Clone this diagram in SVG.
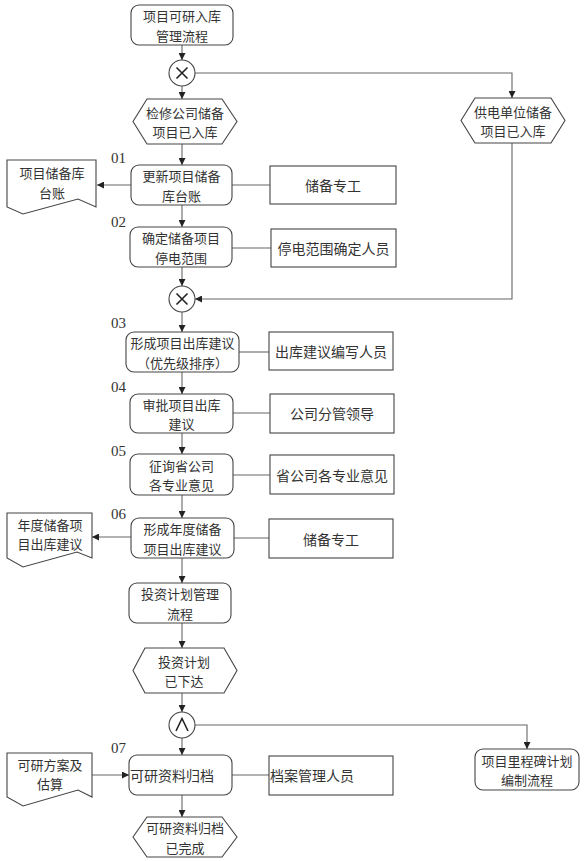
<svg xmlns="http://www.w3.org/2000/svg" width="584" height="861" viewBox="0 0 584 861">
<style>
.n{fill:#fff;stroke:#444;stroke-width:1.1}
.t{font-family:"Noto Sans CJK SC","Noto Sans",sans-serif;font-size:13px;fill:#333;text-anchor:middle;dominant-baseline:central}
.s{font-size:14px}
.tl{text-anchor:start}
.num{font-family:"Liberation Serif",serif;font-size:15px;fill:#333;dominant-baseline:central}
.c{fill:none;stroke:#666;stroke-width:1.1}
.a{marker-end:url(#arr)}
.g{fill:none;stroke:#222;stroke-width:1.6}
</style>
<defs>
<marker id="arr" viewBox="0 0 10 10" refX="10" refY="5" markerWidth="7" markerHeight="7" markerUnits="userSpaceOnUse" orient="auto">
<path d="M0,0 L10,5 L0,10 z" fill="#222"/>
</marker>
</defs>
<rect width="584" height="861" fill="#fff"/>
<g id="connectors">
<line class="c a" x1="182" y1="45" x2="182" y2="60"/>
<line class="c a" x1="182" y1="86" x2="182" y2="99"/>
<polyline class="c a" points="195,73 512,73 512,98"/>
<line class="c a" x1="182" y1="144" x2="182" y2="165"/>
<line class="c a" x1="131" y1="185" x2="97" y2="185"/>
<line class="c" x1="232" y1="185" x2="270" y2="185"/>
<line class="c a" x1="182" y1="205" x2="182" y2="227"/>
<line class="c" x1="232" y1="248" x2="271" y2="248"/>
<line class="c a" x1="182" y1="267" x2="182" y2="286"/>
<polyline class="c a" points="512,143 512,299 195,299"/>
<line class="c a" x1="182" y1="312" x2="182" y2="332"/>
<line class="c" x1="239" y1="352" x2="269" y2="352"/>
<line class="c a" x1="182" y1="372" x2="182" y2="394"/>
<line class="c" x1="233" y1="413" x2="270" y2="413"/>
<line class="c a" x1="182" y1="433" x2="182" y2="454"/>
<line class="c" x1="233" y1="475" x2="270" y2="475"/>
<line class="c a" x1="182" y1="495" x2="182" y2="518"/>
<line class="c a" x1="131" y1="537" x2="92" y2="537"/>
<line class="c" x1="234" y1="538" x2="269" y2="538"/>
<line class="c a" x1="182" y1="558" x2="182" y2="583"/>
<line class="c a" x1="182" y1="623" x2="182" y2="648"/>
<line class="c a" x1="182" y1="693" x2="182" y2="712"/>
<polyline class="c a" points="195,725 527,725 527,749"/>
<line class="c a" x1="182" y1="738" x2="182" y2="755"/>
<line class="c a" x1="92" y1="775" x2="129" y2="775"/>
<line class="c" x1="232" y1="775" x2="269" y2="775"/>
<line class="c a" x1="182" y1="795" x2="182" y2="817"/>
</g>
<g id="start">
<rect class="n" x="131" y="5" width="102" height="40" rx="8"/>
<text class="t" x="182" y="15.5">项目可研入库<tspan x="182" dy="19">管理流程</tspan></text>
</g>
<g id="xor1">
<circle class="n" cx="182" cy="73" r="13"/>
<path class="g" d="M176.5,67.5 L187.5,78.5 M187.5,67.5 L176.5,78.5"/>
</g>
<g id="ev1">
<polygon class="n" points="133,121.5 147,99 222,99 237,121.5 222,144 147,144"/>
<text class="t" x="185" y="112">检修公司储备<tspan x="185" dy="19">项目已入库</tspan></text>
</g>
<g id="ev2">
<polygon class="n" points="461,120.5 475,98 551,98 565,120.5 551,143 475,143"/>
<text class="t" x="513" y="111">供电单位储备<tspan x="513" dy="19">项目已入库</tspan></text>
</g>
<g id="s01">
<text class="num" x="111" y="158">01</text>
<rect class="n" x="131" y="165" width="101" height="40" rx="8"/>
<text class="t" x="181.5" y="175.5">更新项目储备<tspan x="181.5" dy="19">库台账</tspan></text>
</g>
<g id="doc1">
<path class="n" d="M7,160 L96,160 L96,207 L78,199 L23,214 L7,207 Z"/>
<text class="t" x="52" y="172.5">项目储备库<tspan x="52" dy="19">台账</tspan></text>
</g>
<g id="r01">
<rect class="n" x="270" y="166" width="126" height="38"/>
<text class="t s" x="333" y="185">储备专工</text>
</g>
<g id="s02">
<text class="num" x="111" y="222">02</text>
<rect class="n" x="130" y="227" width="102" height="40" rx="8"/>
<text class="t" x="181" y="237.5">确定储备项目<tspan x="181" dy="19">停电范围</tspan></text>
</g>
<g id="r02">
<rect class="n" x="271" y="229" width="125" height="38"/>
<text class="t s" x="333.5" y="248">停电范围确定人员</text>
</g>
<g id="xor2">
<circle class="n" cx="182" cy="299" r="13"/>
<path class="g" d="M176.5,293.5 L187.5,304.5 M187.5,293.5 L176.5,304.5"/>
</g>
<g id="s03">
<text class="num" x="111" y="323">03</text>
<rect class="n" x="126" y="332" width="113" height="40" rx="8"/>
<text class="t" x="182.5" y="342.5">形成项目出库建议<tspan x="182.5" dy="19">（优先级排序）</tspan></text>
</g>
<g id="r03">
<rect class="n" x="269" y="332" width="124" height="38"/>
<text class="t s" x="331" y="351">出库建议编写人员</text>
</g>
<g id="s04">
<text class="num" x="111" y="387">04</text>
<rect class="n" x="130" y="394" width="103" height="39" rx="8"/>
<text class="t" x="181.5" y="404">审批项目出库<tspan x="181.5" dy="19">建议</tspan></text>
</g>
<g id="r04">
<rect class="n" x="270" y="394" width="124" height="39"/>
<text class="t s" x="332" y="413">公司分管领导</text>
</g>
<g id="s05">
<text class="num" x="111" y="451">05</text>
<rect class="n" x="130" y="454" width="103" height="41" rx="8"/>
<text class="t" x="181.5" y="465">征询省公司<tspan x="181.5" dy="19">各专业意见</tspan></text>
</g>
<g id="r05">
<rect class="n" x="270" y="455" width="124" height="39"/>
<text class="t s" x="332" y="474.5">省公司各专业意见</text>
</g>
<g id="s06">
<text class="num" x="111" y="514">06</text>
<rect class="n" x="131" y="518" width="103" height="40" rx="8"/>
<text class="t" x="182.5" y="528.5">形成年度储备<tspan x="182.5" dy="19">项目出库建议</tspan></text>
</g>
<g id="doc2">
<path class="n" d="M7,513 L92,513 L92,558 L77,552 L23,567 L7,558 Z"/>
<text class="t" x="50" y="524">年度储备项<tspan x="50" dy="19">目出库建议</tspan></text>
</g>
<g id="r06">
<rect class="n" x="269" y="519" width="124" height="39"/>
<text class="t s" x="331" y="538.5">储备专工</text>
</g>
<g id="invest">
<rect class="n" x="129" y="583" width="102" height="40" rx="8"/>
<text class="t" x="180" y="593.5">投资计划管理<tspan x="180" dy="19">流程</tspan></text>
</g>
<g id="ev3">
<polygon class="n" points="133,670.5 145,648 224,648 237,670.5 224,693 145,693"/>
<text class="t" x="184" y="661">投资计划<tspan x="184" dy="19">已下达</tspan></text>
</g>
<g id="and1">
<circle class="n" cx="182" cy="725" r="13"/>
<polyline class="g" points="176,731 182,718.5 188,731"/>
</g>
<g id="milestone">
<rect class="n" x="475" y="749" width="104" height="41" rx="8"/>
<text class="t" x="527" y="760">项目里程碑计划<tspan x="527" dy="19">编制流程</tspan></text>
</g>
<g id="s07">
<text class="num" x="111" y="748">07</text>
<rect class="n" x="129" y="755" width="103" height="40" rx="8"/>
<text class="t s tl" x="130" y="775">可研资料归档</text>
</g>
<g id="doc3">
<path class="n" d="M7,753 L92,753 L92,797 L78,790 L23,806 L7,797 Z"/>
<text class="t" x="50" y="764">可研方案及<tspan x="50" dy="19">估算</tspan></text>
</g>
<g id="r07">
<rect class="n" x="269" y="756" width="124" height="39"/>
<text class="t s tl" x="270" y="775">档案管理人员</text>
</g>
<g id="ev4">
<polygon class="n" points="133,837 147,817 222,817 237,837 222,857 147,857"/>
<text class="t" x="185" y="827.5">可研资料归档<tspan x="185" dy="19">已完成</tspan></text>
</g>
</svg>
